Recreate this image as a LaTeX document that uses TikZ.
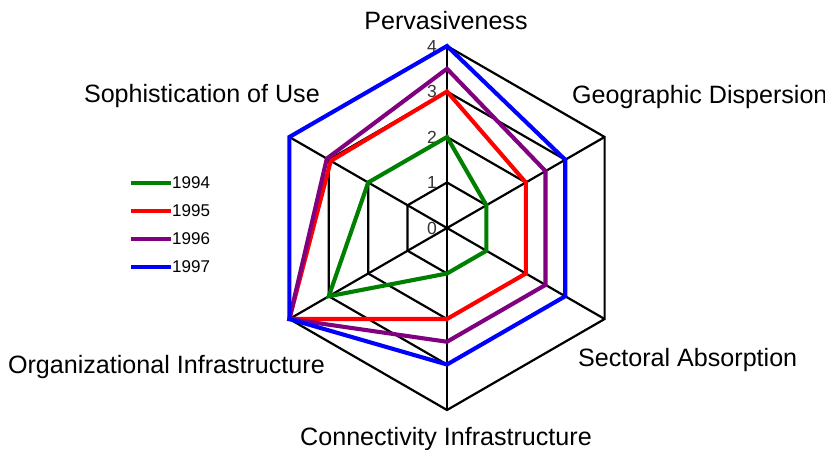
\documentclass[tikz,border=0pt]{standalone}
\usepackage{fontspec}
\setmainfont{Liberation Sans}
\definecolor{sgreen}{RGB}{0,128,0}
\definecolor{sred}{RGB}{255,0,0}
\definecolor{spurple}{RGB}{128,0,128}
\definecolor{sblue}{RGB}{0,0,255}
\begin{document}
\begin{tikzpicture}[x=1pt,y=1pt,
  gridline/.style={black,line width=2.2pt,line join=miter},
  series/.style={line width=4.1pt,line join=miter},
  axlabel/.style={font=\fontsize{25.1}{28}\selectfont,inner sep=0pt},
  ticklabel/.style={font=\fontsize{17.5}{20}\selectfont,inner sep=0pt,anchor=east,text=black!80},
  legline/.style={line width=3.3pt},
  legtext/.style={font=\fontsize{17}{20}\selectfont,inner sep=0pt,anchor=west}]
\useasboundingbox (0,0) rectangle (825,-450);
\clip (0,0) rectangle (825,-450);
\fill[white] (0,0) rectangle (825,-450);
\def\u{45.5}
\begin{scope}[shift={(447,-228)}]
  % grid rings
  \foreach \r in {1,2,3,4}
    \draw[gridline] (90:{\r*\u}) -- (30:{\r*\u}) -- (-30:{\r*\u}) -- (-90:{\r*\u}) -- (-150:{\r*\u}) -- (150:{\r*\u}) -- cycle;
  % spokes
  \foreach \a in {90,30,-30,-90,-150,150}
    \draw[gridline] (0,0) -- (\a:{4*\u});
  % tick labels
  \foreach \r in {0,1,2,3,4}
    \node[ticklabel] (t\r) at (-10,{\r*\u}) {\r};
  % series
  \draw[series,sgreen] (90:{2*\u}) -- (30:{1*\u}) -- (-30:{1*\u}) -- (-90:{1*\u}) -- (-150:{3*\u}) -- (150:{2*\u}) -- cycle;
  \draw[series,sred] (90:{3*\u}) -- (30:{2*\u}) -- (-30:{2*\u}) -- (-90:{2*\u}) -- (-150:{4*\u}) -- (150:{2.95*\u}) -- cycle;
  \draw[series,spurple] (90:{3.5*\u}) -- (30:{2.5*\u}) -- (-30:{2.5*\u}) -- (-90:{2.5*\u}) -- (-150:{4*\u}) -- (150:{3.05*\u}) -- cycle;
  \draw[series,sblue] (90:{4*\u}) -- (30:{3*\u}) -- (-30:{3*\u}) -- (-90:{3*\u}) -- (-150:{4*\u}) -- (150:{4*\u}) -- cycle;
\end{scope}
% axis labels
\node[axlabel,anchor=base] (perv) at (446,-29) {Pervasiveness};
\node[axlabel,anchor=base west] (geo) at (572,-103) {Geographic Dispersion};
\node[axlabel,anchor=base west] (sect) at (578,-366) {Sectoral Absorption};
\node[axlabel,anchor=base] (conn) at (446,-445) {Connectivity Infrastructure};
\node[axlabel,anchor=base east] (org) at (325,-373) {Organizational Infrastructure};
\node[axlabel,anchor=base east] (soph) at (320,-102) {Sophistication of Use};
% legend
\coordinate (l1a) at (131,-183); \coordinate (l1b) at (171,-183);
\coordinate (l2a) at (131,-211); \coordinate (l2b) at (171,-211);
\coordinate (l3a) at (131,-239); \coordinate (l3b) at (171,-239);
\coordinate (l4a) at (131,-267); \coordinate (l4b) at (171,-267);
\draw[legline,sgreen] (l1a) -- (l1b);
\draw[legline,sred] (l2a) -- (l2b);
\draw[legline,spurple] (l3a) -- (l3b);
\draw[legline,sblue] (l4a) -- (l4b);
\node[legtext] (y1) at (172,-183) {1994};
\node[legtext] (y2) at (172,-211) {1995};
\node[legtext] (y3) at (172,-239) {1996};
\node[legtext] (y4) at (172,-267) {1997};
\end{tikzpicture}
\end{document}
